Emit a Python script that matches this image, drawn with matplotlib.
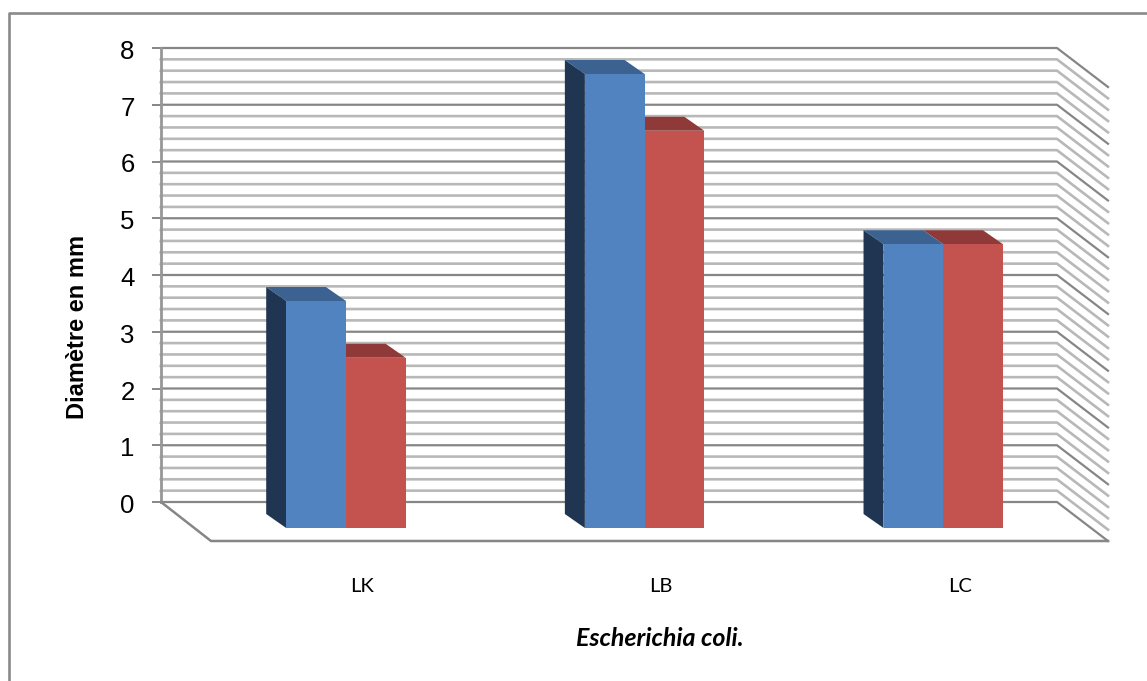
"""
3D-style clustered bars of inhibition diameter for Escherichia coli.
"""

import matplotlib

matplotlib.use("Agg")
import matplotlib.pyplot as plt
import numpy as np
from matplotlib.lines import Line2D
from matplotlib.patches import Polygon
from matplotlib.transforms import Affine2D, IdentityTransform

CATEGORIES = ["LK", "LB", "LC"]
SERIES_BLUE = [4, 8, 5]
SERIES_RED = [3, 7, 5]
Y_TICKS = [0, 1, 2, 3, 4, 5, 6, 7, 8]

WIDTH, HEIGHT = 1147, 681
GRID_MAJOR = "#868686"
GRID_MINOR = "#b8b8b8"
BAR_WIDTH = 0.2

# oblique projection, in pixels
FLOOR_DX, FLOOR_DY = 51, -39
FRONT_DX, FRONT_DY = 35.6, -26
BACK_DX, BACK_DY = 15.6, -12


def shifted(ax, dx, dy):
    """Data transform moved by a pixel offset."""
    return ax.transData + Affine2D().translate(dx, dy)


def to_pixels(ax, x, y, dx=0, dy=0):
    px, py = ax.transData.transform((x, y))
    return px + dx, py + dy


def draw_walls(ax):
    minor = np.arange(0, 40) / 5
    for value in minor:
        major = value == int(value)
        if not major:
            draw_grid_line(ax, value, GRID_MINOR, 1.9)
    for value in Y_TICKS:
        draw_grid_line(ax, value, GRID_MAJOR, 1.6)

    ax.plot([0, 0], [0, 8], color="#979797", lw=2, clip_on=False, zorder=2)

    # floor edges
    left = to_pixels(ax, 0, 0)
    right = to_pixels(ax, 3, 0)
    xs = [left[0], left[0] + FLOOR_DX - 1, right[0] + FLOOR_DX]
    ys = [left[1], left[1] + FLOOR_DY, right[1] + FLOOR_DY]
    ax.add_line(Line2D(xs, ys, color=GRID_MAJOR, lw=1.8,
                       transform=IdentityTransform(), clip_on=False))


def draw_grid_line(ax, value, color, width):
    start = to_pixels(ax, 0, value)
    corner = to_pixels(ax, 3, value)
    xs = [start[0], corner[0], corner[0] + FLOOR_DX]
    ys = [start[1], corner[1], corner[1] + FLOOR_DY]
    ax.add_line(Line2D(xs, ys, color=color, lw=width,
                       transform=IdentityTransform(), clip_on=False, zorder=1))


def add_face(ax, points, color, zorder):
    ax.add_patch(Polygon(points, closed=True, facecolor=color, edgecolor="none",
                         transform=IdentityTransform(), clip_on=False, zorder=zorder))


def draw_bar(ax, x0, value, front, top, side=None):
    """One box: front face through bar(), top and optional side as polygons."""
    x1 = x0 + BAR_WIDTH
    ax.bar(x0, value, BAR_WIDTH, align="edge", color=front, linewidth=0,
           transform=shifted(ax, FRONT_DX, FRONT_DY), clip_on=False, zorder=4)
    add_face(ax, [
        to_pixels(ax, x0, value, FRONT_DX, FRONT_DY),
        to_pixels(ax, x1, value, FRONT_DX, FRONT_DY),
        to_pixels(ax, x1, value, BACK_DX, BACK_DY),
        to_pixels(ax, x0, value, BACK_DX, BACK_DY),
    ], top, 3)
    if side:
        add_face(ax, [
            to_pixels(ax, x0, 0, FRONT_DX, FRONT_DY),
            to_pixels(ax, x0, value, FRONT_DX, FRONT_DY),
            to_pixels(ax, x0, value, BACK_DX, BACK_DY),
            to_pixels(ax, x0, 0, BACK_DX, BACK_DY),
        ], side, 3)


def create_chart():
    fig = plt.figure(figsize=(WIDTH / 100, HEIGHT / 100), dpi=100)
    ax = fig.add_axes([161 / WIDTH, 1 - 502 / HEIGHT, 896 / WIDTH, 454 / HEIGHT])
    ax.set_xlim(0, 3)
    ax.set_ylim(0, 8)
    for spine in ax.spines.values():
        spine.set_visible(False)

    draw_walls(ax)

    positions = np.arange(len(CATEGORIES)) + 0.5
    for pos, blue, red in zip(positions, SERIES_BLUE, SERIES_RED):
        draw_bar(ax, pos, red, "#c4524f", "#8f3a38")
        draw_bar(ax, pos - BAR_WIDTH, blue, "#5283c1", "#3b6291", "#1f3551")

    ax.set_xlim(0, 3)
    ax.set_ylim(0, 8)
    ax.set_xticks([])
    ax.set_yticks(Y_TICKS)
    ax.set_yticks(np.arange(0, 40) / 5, minor=True)
    ax.tick_params(axis="y", which="major", length=6.5, width=1.4, color=GRID_MAJOR,
                   pad=12.5, labelsize=18.5)
    ax.tick_params(axis="y", which="minor", length=1.5, width=1, color=GRID_MINOR)
    nudge = Affine2D().translate(0, -1.5)
    for label in ax.get_yticklabels():
        label.set_fontfamily("Liberation Sans")
        label.set_transform(label.get_transform() + nudge)

    for pos, name in zip(positions, CATEGORIES):
        ax.text(pos, 0, name, transform=shifted(ax, 52, -85), ha="center", va="center",
                fontfamily="Lato", fontsize=14.5, color="black")

    fig.text(659.5 / WIDTH, 1 - 639 / HEIGHT, "Escherichia coli.", ha="center", va="center",
             fontfamily="Lato", fontsize=18, fontweight="bold", fontstyle="italic")
    fig.text(78 / WIDTH, 1 - 327 / HEIGHT, "Diamètre en mm", ha="center", va="center",
             rotation=90, fontfamily="Liberation Sans", fontsize=17, fontweight="bold")

    # chart frame: only the top and left edges show
    frame_x = [8.5 / WIDTH, 8.5 / WIDTH, 1]
    frame_y = [0, 1 - 12.5 / HEIGHT, 1 - 12.5 / HEIGHT]
    fig.add_artist(Line2D(frame_x, frame_y, color="#8a8a8a", lw=1.9,
                          transform=fig.transFigure))

    fig.savefig("out.png", dpi=100)


if __name__ == "__main__":
    create_chart()
